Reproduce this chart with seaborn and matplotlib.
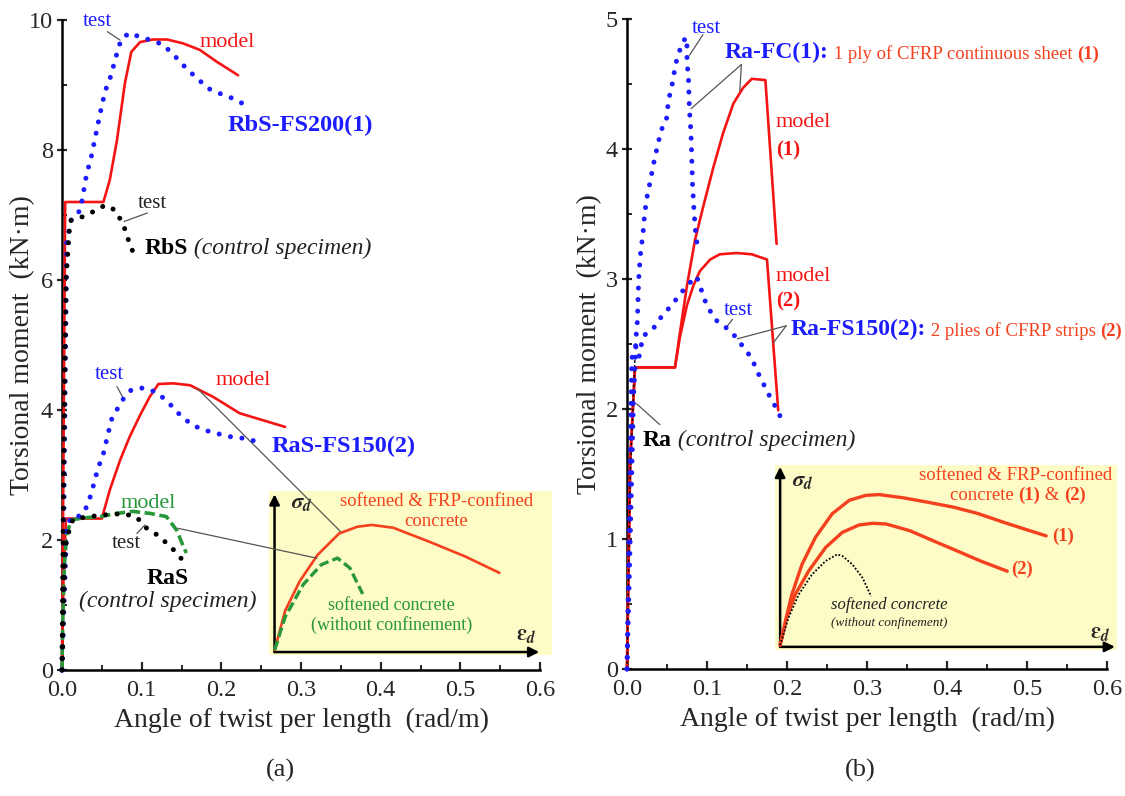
import matplotlib
matplotlib.use("Agg")
import matplotlib.pyplot as plt
import seaborn as sns
from matplotlib.ticker import MultipleLocator, FormatStrFormatter

# ---------------- panel (a): beams RbS / RaS ----------------
rbs_fs_test_x = [0, 0.002, 0.004, 0.006, 0.012, 0.023, 0.031, 0.036, 0.041, 0.048, 0.054, 0.061,
                 0.069, 0.074, 0.084, 0.098, 0.114, 0.127, 0.142, 0.158, 0.171, 0.183, 0.198, 0.213, 0.226]
rbs_fs_test_y = [0, 2.0, 4.5, 6.6, 6.95, 7.07, 7.64, 7.85, 8.15, 8.57, 8.9, 9.13,
                 9.49, 9.69, 9.8, 9.74, 9.68, 9.62, 9.44, 9.23, 9.09, 8.95, 8.87, 8.8, 8.72]
rbs_fs_model_x = [0, 0.002, 0.004, 0.052, 0.060, 0.069, 0.079, 0.087, 0.098, 0.114, 0.132, 0.152,
                  0.173, 0.194, 0.221]
rbs_fs_model_y = [0, 3.5, 7.2, 7.2, 7.54, 8.15, 9.03, 9.51, 9.66, 9.7, 9.7, 9.64, 9.54, 9.36, 9.15]
rbs_test_x = [0, 0.002, 0.005, 0.010, 0.025, 0.039, 0.054, 0.066, 0.075, 0.081, 0.085, 0.092]
rbs_test_y = [0, 3.0, 6.0, 6.91, 6.97, 7.05, 7.15, 7.08, 6.9, 6.72, 6.54, 6.36]

ras_fs_test_x = [0, 0.003, 0.006, 0.012, 0.023, 0.031, 0.037, 0.041, 0.046, 0.052, 0.056, 0.062,
                 0.071, 0.077, 0.087, 0.102, 0.117, 0.131, 0.146, 0.163, 0.179, 0.194, 0.211, 0.225, 0.240]
ras_fs_test_y = [0, 1.2, 2.2, 2.36, 2.37, 2.51, 2.72, 2.92, 3.13, 3.33, 3.54, 3.85,
                 4.05, 4.17, 4.31, 4.34, 4.28, 4.15, 3.95, 3.77, 3.69, 3.64, 3.59, 3.57, 3.53]
ras_fs_model_x = [0, 0.002, 0.005, 0.050, 0.060, 0.073, 0.085, 0.098, 0.110, 0.121, 0.140, 0.161,
                  0.190, 0.223, 0.280]
ras_fs_model_y = [0, 1.5, 2.33, 2.33, 2.77, 3.23, 3.59, 3.92, 4.2, 4.4, 4.41, 4.38, 4.2, 3.95, 3.74]
ras_model_x = [0, 0.001, 0.003, 0.006, 0.012, 0.027, 0.048, 0.069, 0.089, 0.110, 0.131, 0.144, 0.150, 0.156]
ras_model_y = [0, 0.8, 1.6, 2.1, 2.31, 2.34, 2.36, 2.41, 2.44, 2.41, 2.36, 2.15, 1.97, 1.8]
ras_test_x = [0, 0.002, 0.004, 0.010, 0.014, 0.033, 0.050, 0.062, 0.079, 0.094, 0.104, 0.117,
              0.127, 0.140, 0.150]
ras_test_y = [0, 1.0, 1.9, 2.2, 2.32, 2.36, 2.38, 2.4, 2.4, 2.35, 2.2, 2.1, 2.0, 1.85, 1.71]

# ---------------- panel (b): beams Ra ----------------
fc_test_x = [0, 0.004, 0.008, 0.010, 0.011, 0.013, 0.014, 0.015, 0.017, 0.020, 0.022, 0.025, 0.029,
             0.033, 0.038, 0.043, 0.049, 0.052, 0.056, 0.061, 0.066, 0.070, 0.073, 0.075, 0.075,
             0.077, 0.078, 0.080, 0.081, 0.082, 0.084, 0.086, 0.088]
fc_test_y = [0, 1.0, 2.07, 2.33, 2.53, 2.68, 2.89, 3.04, 3.2, 3.35, 3.5, 3.63, 3.75,
             3.88, 4.02, 4.15, 4.21, 4.38, 4.48, 4.66, 4.76, 4.81, 4.86, 4.79, 4.68,
             4.52, 4.31, 4.12, 3.92, 3.71, 3.5, 3.34, 3.25]
fs_test_x = [0, 0.003, 0.006, 0.011, 0.015, 0.020, 0.033, 0.043, 0.056, 0.066, 0.075, 0.087,
             0.091, 0.100, 0.112, 0.125, 0.135, 0.145, 0.156, 0.162, 0.170, 0.179, 0.189, 0.195]
fs_test_y = [0, 1.2, 2.39, 2.48, 2.4, 2.56, 2.62, 2.71, 2.8, 2.88, 2.95, 3.02,
             2.95, 2.79, 2.68, 2.62, 2.56, 2.48, 2.39, 2.3, 2.2, 2.09, 1.98, 1.89]
fc_model_x = [0, 0.004, 0.010, 0.060, 0.066, 0.075, 0.085, 0.095, 0.108, 0.120, 0.133, 0.145,
              0.156, 0.173, 0.187]
fc_model_y = [0, 1.6, 2.32, 2.32, 2.58, 2.95, 3.3, 3.55, 3.86, 4.12, 4.35, 4.47, 4.54, 4.53, 3.27]
fs_model_x = [0, 0.004, 0.010, 0.060, 0.066, 0.075, 0.083, 0.091, 0.104, 0.116, 0.137, 0.156,
              0.175, 0.189]
fs_model_y = [0, 1.6, 2.32, 2.32, 2.55, 2.8, 2.95, 3.06, 3.15, 3.19, 3.2, 3.19, 3.15, 1.99]
ra_test_x = [0, 0.004, 0.008, 0.010]
ra_test_y = [0, 1.5, 2.1, 2.4]

# ---------------- schematic stress-strain insets (normalised) ----------------
ia_conf_x = [0.020, 0.057, 0.109, 0.172, 0.248, 0.312, 0.363, 0.439, 0.566, 0.693, 0.814]
ia_conf_y = [0.030, 0.270, 0.451, 0.611, 0.741, 0.782, 0.793, 0.776, 0.691, 0.601, 0.501]
ia_soft_x = [0.020, 0.057, 0.121, 0.185, 0.242, 0.286, 0.331]
ia_soft_y = [0.030, 0.232, 0.430, 0.551, 0.591, 0.530, 0.372]

ib_c1_x = [0.015, 0.030, 0.049, 0.079, 0.118, 0.167, 0.217, 0.266, 0.305, 0.374, 0.443, 0.522,
           0.591, 0.669, 0.738, 0.793]
ib_c1_y = [0.026, 0.153, 0.299, 0.463, 0.608, 0.736, 0.809, 0.836, 0.840, 0.823, 0.800, 0.772,
           0.739, 0.690, 0.649, 0.617]
ib_c2_x = [0.015, 0.034, 0.059, 0.098, 0.148, 0.197, 0.246, 0.286, 0.325, 0.394, 0.463, 0.532,
           0.601, 0.679]
ib_c2_y = [0.026, 0.172, 0.299, 0.426, 0.554, 0.636, 0.676, 0.685, 0.681, 0.645, 0.590, 0.536,
           0.481, 0.426]
ib_soft_x = [0.015, 0.039, 0.069, 0.108, 0.148, 0.182, 0.197, 0.226, 0.256, 0.281]
ib_soft_y = [0.026, 0.172, 0.299, 0.408, 0.481, 0.517, 0.508, 0.463, 0.390, 0.290]

x_ticks = [0.0, 0.1, 0.2, 0.3, 0.4, 0.5, 0.6]
ya_ticks = [0, 2, 4, 6, 8, 10]
yb_ticks = [0, 1, 2, 3, 4, 5]

BLUE = "#1c1cff"
RED = "#f41414"
GREEN = "#27973a"
ORANGE = "#f5401e"
GREY = "#555555"
YELLOW = "#fdfbc6"

sns.set_style("ticks")
plt.rcParams["font.family"] = ["Liberation Serif", "DejaVu Serif"]
plt.rcParams["mathtext.fontset"] = "stix"

W, H = 1125, 796
fig = plt.figure(figsize=(W / 100, H / 100), dpi=100)


def px_axes(l, r, t, b):
    return fig.add_axes([l / W, 1 - b / H, (r - l) / W, (b - t) / H])


DOT = (0, (0.01, 2.3))
DASH = (0, (2.9, 1.25))


def curve(ax, x, y, color, style="-", lw=1.9, z=3):
    kw = dict(color=color, linewidth=lw, linestyle=style, zorder=z, clip_on=False)
    if style == DOT:
        kw.update(dash_capstyle="round")
    else:
        kw.update(solid_joinstyle="round")
    sns.lineplot(x=x, y=y, ax=ax, estimator=None, sort=False, **kw)


def leader(ax, p0, p1):
    ax.annotate("", xy=p1, xytext=p0, xycoords="data", textcoords="data",
                arrowprops=dict(arrowstyle="-", color=GREY, lw=0.9, shrinkA=0, shrinkB=0),
                annotation_clip=False)


def chain(ax, x, y, parts, transform=None):
    s, kw = parts[0]
    prev = ax.text(x, y, s, ha="left", va="center",
                   transform=transform if transform is not None else ax.transData, **kw)
    for s, kw in parts[1:]:
        prev = ax.annotate(s, xy=(1, 0), xycoords=prev, ha="left", va="bottom", **kw)


def style_axes(ax, yt, ymax, yminor):
    ax.set_xlim(0, 0.6)
    ax.set_ylim(0, ymax)
    ax.set_xticks(x_ticks)
    ax.xaxis.set_major_formatter(FormatStrFormatter("%.1f"))
    ax.xaxis.set_minor_locator(MultipleLocator(0.05))
    ax.set_yticks(yt)
    ax.yaxis.set_minor_locator(MultipleLocator(yminor))
    for s in ("top", "right"):
        ax.spines[s].set_visible(False)
    for s in ("left", "bottom"):
        ax.spines[s].set_linewidth(1.8)
        ax.spines[s].set_color("black")
    ax.tick_params(axis="x", which="major", direction="in", length=6, width=1.6, pad=7, labelsize=17.5)
    ax.tick_params(axis="x", which="minor", direction="in", length=3.5, width=1.4)
    ax.tick_params(axis="y", which="major", direction="inout", length=7, width=1.6, pad=3, labelsize=17.5)
    ax.tick_params(axis="y", which="minor", direction="in", length=3.5, width=1.4)
    ax.set_xlabel("Angle of twist per length  (rad/m)", fontsize=20)
    ax.set_ylabel("Torsional moment  (kN\u00b7m)", fontsize=20)
    ax.xaxis.set_label_coords(0.5, -0.058)
    ax.patch.set_visible(False)
    ax.set_zorder(2)


def inset(l, r, t, b, ox, oy, top, right):
    ia = px_axes(l, r, t, b)
    ia.set_xlim(0, 1)
    ia.set_ylim(0, 1)
    ia.set_facecolor(YELLOW)
    ia.set_xticks([])
    ia.set_yticks([])
    for s in ia.spines.values():
        s.set_visible(False)
    ia.set_zorder(1)
    ap = dict(arrowstyle="-|>", color="black", lw=1.8, mutation_scale=15, shrinkA=0, shrinkB=0)
    ia.annotate("", xy=(ox, top), xytext=(ox, oy), arrowprops=ap)
    ia.annotate("", xy=(right, oy), xytext=(ox, oy), arrowprops=ap)
    return ia


SIG = r"$\boldsymbol{\sigma}_{\boldsymbol{d}}$"
EPS = r"$\boldsymbol{\varepsilon}_{\boldsymbol{d}}$"

# ======================= panel (a) =======================
axa = px_axes(62, 540, 20, 670)
curve(axa, rbs_fs_model_x, rbs_fs_model_y, RED)
curve(axa, ras_fs_model_x, ras_fs_model_y, RED)
curve(axa, ras_model_x, ras_model_y, GREEN, DASH, lw=2.6)
curve(axa, rbs_fs_test_x, rbs_fs_test_y, BLUE, DOT, lw=3.6, z=4)
curve(axa, ras_fs_test_x, ras_fs_test_y, BLUE, DOT, lw=3.6, z=4)
curve(axa, rbs_test_x, rbs_test_y, "black", DOT, lw=3.6, z=4)
curve(axa, ras_test_x, ras_test_y, "black", DOT, lw=3.6, z=4)
style_axes(axa, ya_ticks, 10, 1)
axa.yaxis.set_label_coords(-0.056, 0.5)

axa.text(0.045, 9.97, "test", color=BLUE, fontsize=15, ha="center", va="center")
leader(axa, (0.057, 9.82), (0.073, 9.69))
axa.text(0.207, 9.66, "model", color=RED, fontsize=16, ha="center", va="center")
axa.text(0.208, 8.38, "RbS-FS200(1)", color=BLUE, fontsize=17.5, fontweight="bold", ha="left", va="center")
axa.text(0.114, 7.18, "test", color="#222222", fontsize=15, ha="center", va="center")
leader(axa, (0.107, 7.03), (0.078, 6.9))
chain(axa, 0.104, 6.49, [("RbS", dict(fontsize=17, fontweight="bold", color="black")),
                         (" (control specimen)", dict(fontsize=17, fontstyle="italic", color="#222222"))])
axa.text(0.060, 4.54, "test", color=BLUE, fontsize=15, ha="center", va="center")
leader(axa, (0.069, 4.36), (0.077, 4.18))
axa.text(0.227, 4.46, "model", color=RED, fontsize=16, ha="center", va="center")
axa.text(0.263, 3.44, "RaS-FS150(2)", color=BLUE, fontsize=17.5, fontweight="bold", ha="left", va="center")
axa.text(0.108, 2.56, "model", color=GREEN, fontsize=16, ha="center", va="center")
axa.text(0.081, 1.95, "test", color="#222222", fontsize=15, ha="center", va="center")
leader(axa, (0.094, 2.10), (0.104, 2.23))
axa.text(0.133, 1.41, "RaS", color="black", fontsize=17, fontweight="bold", ha="center", va="center")
axa.text(0.133, 1.05, "(control specimen)", color="#222222", fontsize=17, fontstyle="italic",
         ha="center", va="center")
leader(axa, (0.170, 4.33), (0.3496, 2.13))
leader(axa, (0.1455, 2.18), (0.32, 1.72))

ina = inset(269, 552, 491, 655, 0.0196, 0.018, 0.98, 0.955)
curve(ina, ia_conf_x, ia_conf_y, ORANGE, "-", lw=1.9)
curve(ina, ia_soft_x, ia_soft_y, GREEN, DASH, lw=2.4)
ina.text(0.077, 0.922, SIG, fontsize=16, ha="left", va="center")
ina.text(0.872, 0.12, EPS, fontsize=16, ha="left", va="center")
ina.text(0.592, 0.933, "softened & FRP-confined", color=ORANGE, fontsize=13.5, ha="center", va="center")
ina.text(0.592, 0.812, "concrete", color=ORANGE, fontsize=13.5, ha="center", va="center")
ina.text(0.433, 0.30, "softened concrete", color=GREEN, fontsize=13, ha="center", va="center")
ina.text(0.433, 0.18, "(without confinement)", color=GREEN, fontsize=13, ha="center", va="center")

# ======================= panel (b) =======================
axb = px_axes(627, 1107, 19, 669)
curve(axb, fc_model_x, fc_model_y, RED)
curve(axb, fs_model_x, fs_model_y, RED)
curve(axb, ra_test_x, ra_test_y, "black", (0, (2, 1.5)), lw=1.0, z=4)
curve(axb, fc_test_x, fc_test_y, BLUE, DOT, lw=3.6, z=4)
curve(axb, fs_test_x, fs_test_y, BLUE, DOT, lw=3.6, z=4)
style_axes(axb, yb_ticks, 5, 0.5)
axb.yaxis.set_label_coords(-0.052, 0.5)

axb.text(0.0996, 4.93, "test", color=BLUE, fontsize=15, ha="center", va="center")
leader(axb, (0.095, 4.88), (0.078, 4.72))
chain(axb, 0.1225, 4.74, [("Ra-FC(1):", dict(fontsize=17, fontweight="bold", color=BLUE)),
                          (" 1 ply of CFRP continuous sheet ", dict(fontsize=13.5, color=ORANGE)),
                          ("(1)", dict(fontsize=13.5, fontweight="bold", color=ORANGE))])
leader(axb, (0.143, 4.65), (0.080, 4.31))
leader(axb, (0.143, 4.65), (0.141, 4.45))
axb.text(0.186, 4.2, "model", color=RED, fontsize=16, ha="left", va="center")
axb.text(0.186, 3.99, "(1)", color=RED, fontsize=15, fontweight="bold", ha="left", va="center")
axb.text(0.186, 3.02, "model", color=RED, fontsize=16, ha="left", va="center")
axb.text(0.186, 2.83, "(2)", color=RED, fontsize=15, fontweight="bold", ha="left", va="center")
axb.text(0.139, 2.76, "test", color=BLUE, fontsize=15, ha="center", va="center")
leader(axb, (0.132, 2.69), (0.123, 2.62))
chain(axb, 0.204, 2.61, [("Ra-FS150(2):", dict(fontsize=17, fontweight="bold", color=BLUE)),
                         (" 2 plies of CFRP strips ", dict(fontsize=13.5, color=ORANGE)),
                         ("(2)", dict(fontsize=13.5, fontweight="bold", color=ORANGE))])
leader(axb, (0.199, 2.64), (0.138, 2.54))
leader(axb, (0.199, 2.64), (0.183, 2.51))
chain(axb, 0.020, 1.76, [("Ra", dict(fontsize=17, fontweight="bold", color="black")),
                         (" (control specimen)", dict(fontsize=17, fontstyle="italic", color="#222222"))])
leader(axb, (0.041, 1.88), (0.012, 2.04))

inb = inset(775, 1117, 465, 650, 0.015, 0.017, 0.99, 0.994)
curve(inb, ib_c1_x, ib_c1_y, ORANGE, "-", lw=2.4)
curve(inb, ib_c2_x, ib_c2_y, ORANGE, "-", lw=2.4)
curve(inb, ib_soft_x, ib_soft_y, "black", (0, (1, 1)), lw=1.3)
inb.text(0.049, 0.909, SIG, fontsize=16, ha="left", va="center")
inb.text(0.92, 0.09, EPS, fontsize=16, ha="left", va="center")
inb.text(0.704, 0.945, "softened & FRP-confined", color=ORANGE, fontsize=13.5, ha="center", va="center")
chain(inb, 0.512, 0.836, [("concrete ", dict(fontsize=13.5, color=ORANGE)),
                          ("(1)", dict(fontsize=13.5, fontweight="bold", color=ORANGE)),
                          (" & ", dict(fontsize=13.5, color=ORANGE)),
                          ("(2)", dict(fontsize=13.5, fontweight="bold", color=ORANGE))],
      transform=inb.transAxes)
inb.text(0.809, 0.617, "(1)", color=ORANGE, fontsize=13.5, fontweight="bold", ha="left", va="center")
inb.text(0.689, 0.436, "(2)", color=ORANGE, fontsize=13.5, fontweight="bold", ha="left", va="center")
inb.text(0.335, 0.241, "softened concrete", color="#222222", fontsize=12, fontstyle="italic",
         ha="center", va="center")
inb.text(0.335, 0.144, "(without confinement)", color="#222222", fontsize=9.5, fontstyle="italic",
         ha="center", va="center")

fig.text(280 / W, 1 - 770 / H, "(a)", fontsize=19, ha="center", va="center")
fig.text(860 / W, 1 - 770 / H, "(b)", fontsize=19, ha="center", va="center")

fig.savefig("out.png", dpi=100, facecolor="white")
